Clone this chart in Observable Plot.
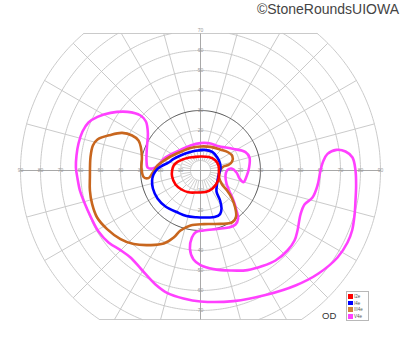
<!DOCTYPE html>
<html><head><meta charset="utf-8">
<script src="https://cdn.jsdelivr.net/npm/d3@7"></script>
<script src="https://cdn.jsdelivr.net/npm/@observablehq/plot@0.6"></script>
<style>
body{margin:0;background:#fff;font-family:"Liberation Sans",Arial,sans-serif}
#wrap{position:relative;width:400px;height:352px;overflow:hidden;background:#fff}
#wrap svg{position:absolute;left:0;top:0}
#copy{position:absolute;right:1px;top:2px;font-size:14px;line-height:14px;color:#444;white-space:nowrap}
#od{position:absolute;left:322px;top:311px;font-size:9.5px;line-height:10px;color:#333}
#legend{position:absolute;left:346px;top:291px;width:23px;height:30px;border:1px solid #b8b8b8;box-sizing:border-box;background:#fff;padding:1px 0 0 1px}
.row{display:flex;align-items:center;height:6.7px;font-size:4.5px;color:#555;white-space:nowrap}
.sw{width:4.5px;height:4.5px;margin-right:1.6px;flex:none}
</style></head>
<body>
<div id="wrap"></div>
<script>
// ---- data (degrees of visual field: x = horizontal, y = vertical) ----
const isopterNames = ["I2e", "I4e", "III4e", "V4e"];
const isopterColors = ["#ff0000", "#0000ff", "#c8661e", "#ff40ff"];
const legendColors = ["#ff0000", "#0000ff", "#d0843a", "#ff40ff"];

const I2e = [[-3.3,6.7],[0,7],[4.2,6.7],[7.5,5],[9,2.5],[9.2,-0.9],[8.8,-5],[6,-9],[2.5,-10.8],[-2,-11],[-5.9,-10.9],[-9.5,-9.5],[-12.5,-7],[-14.2,-3],[-14.2,0],[-13.4,2.5],[-11.5,4.3],[-9,5.5],[-6.5,6.3]];

const I4e = [[-10,7.5],[-6,9],[-1.7,10],[2,10.3],[5.9,9.3],[8.4,6.5],[9.8,3.5],[10,0.9],[9,-2.5],[8.3,-6.5],[8,-10.5],[9.8,-15],[10.5,-19],[9.8,-21.8],[7,-23.3],[3.4,-23.5],[-2,-23.4],[-7,-22.8],[-11.7,-20.9],[-17.5,-18],[-21.5,-14],[-23.8,-9],[-24.2,-5],[-23.5,-2],[-21.5,0.8],[-19,2.5],[-16.3,3.8],[-13.4,5.8]];

const III4e = [[-26,-3.8],[-24,-1.3],[-21.5,2.5],[-18.5,4.8],[-15,7],[-10,9.3],[-5,11.3],[0,12],[5,11.8],[10,10.4],[14,9],[15.9,7.3],[15.8,4.5],[14,2.8],[11.5,2],[10,0.5],[9.3,-3.4],[10.8,-7],[13.3,-10],[15.5,-13.5],[17.3,-18.4],[17.8,-23],[16,-25.8],[10,-26.7],[1.7,-26.8],[-5,-27.5],[-10,-30],[-13.4,-33.5],[-18.4,-36.5],[-25,-37.3],[-33.4,-36.8],[-40,-34.3],[-46.7,-29.3],[-51.7,-23.5],[-54.2,-16.7],[-55.3,-10],[-55.3,-3.4],[-55,6.7],[-53.8,12.5],[-51.5,15.5],[-45,17.8],[-39.2,18.8],[-34.2,17.5],[-31,15],[-29.8,11.5],[-29.3,6.5],[-29.5,1],[-28.4,-3.3]];

const V4e = [[-27,5],[-26.4,1.4],[-24,1],[-21.5,2.3],[-18.5,5.8],[-15,8],[-10,10.3],[-5,12.5],[0,13.7],[5,13.5],[8.5,12.3],[16.5,10.8],[22.5,9.2],[24.5,6.5],[24.3,1.5],[23,-3],[21.5,-5.8],[19.5,-4],[18,-1],[15.5,1],[13.5,0.3],[12.5,-2.5],[13,-6.5],[14.3,-10],[16.5,-15],[18,-20],[18.8,-24],[17.5,-27],[14,-28.5],[8.5,-29.2],[1.5,-30],[-2.5,-30.9],[-4.3,-33.5],[-5.3,-39],[-3.5,-44.5],[0,-47.3],[6.5,-49.3],[15,-50],[23.5,-49.8],[31,-47.8],[37.5,-45],[43.5,-40],[47,-35],[48.5,-30],[50,-22],[52,-17],[56,-13.5],[58.5,-7.5],[60,0],[61.3,4.5],[63.5,8.3],[68,10.3],[72.5,9.5],[76,6.5],[77.5,0],[77.8,-7.5],[77.5,-15],[77,-22.5],[75.8,-30],[73.5,-36],[68.5,-43.5],[59,-51.5],[47.5,-57.5],[33.5,-62],[16.5,-65.3],[0,-65.5],[-8.5,-64],[-16.5,-61.3],[-22.5,-57],[-29.5,-49.5],[-35,-43.5],[-40,-39.8],[-46,-36],[-51,-30.5],[-54.5,-24],[-58.5,-15],[-60.3,-10],[-61.5,-4],[-62.3,1.5],[-62,7.5],[-61,13.5],[-59,19.5],[-56,24],[-51.5,26.8],[-45,28.8],[-36.5,29.3],[-30,27.5],[-27.3,24.5],[-26.3,18.5],[-26.8,11.5]];

const rings = [10, 20, 30, 40, 50, 60, 70, 80, 90];
const hLabels = [10, 20, 30, 40, 50, 60, 70, 80, 90];
const vLabels = [10, 20, 30, 40, 50, 60, 70];
const meridians = d3.range(0, 360, 15);
const hatchAngles = d3.range(0, 360, 10);
const innerRing = 5;
const fieldTop = 68.5, fieldBottom = -74.5;
const copyright = "©StoneRoundsUIOWA";
const eyeLabel = "OD";

// ---- geometry ----
const rad = Math.PI / 180;
const pol = (r, a) => ({x: r * Math.cos(a * rad), y: r * Math.sin(a * rad)});

function ringPoints(r, id) {
  const out = [];
  const a1 = r > fieldTop ? Math.asin(fieldTop / r) / rad : 90;
  const a2 = r > -fieldBottom ? Math.asin(-fieldBottom / r) / rad : 90;
  const arcs = (a1 === 90 && a2 === 90) ? [[0, 360]] : [[-a2, a1], [180 - a1, 180 + a2]];
  arcs.forEach(([s, e], k) => {
    const n = Math.ceil((e - s) / 1);
    for (let i = 0; i <= n; i++) out.push({...pol(r, s + (e - s) * i / n), id: id + "-" + k});
  });
  return out;
}
const gridRings = rings.filter(r => r !== 30).flatMap(r => ringPoints(r, "r" + r)).concat(ringPoints(innerRing, "r5"));
const ring30 = ringPoints(30, "r30");

const spokes = meridians.flatMap(a => {
  const s = Math.sin(a * rad);
  let rEnd = 90;
  if (s > 1e-9) rEnd = Math.min(90, fieldTop / s);
  if (s < -1e-9) rEnd = Math.min(90, fieldBottom / s);
  const p0 = pol(10, a), p1 = pol(rEnd, a);
  return [{x1: p0.x, y1: p0.y, x2: p1.x, y2: p1.y}];
});
const hatches = hatchAngles.map(a => {
  const p0 = pol(innerRing, a), p1 = pol(10, a);
  return {x1: p0.x, y1: p0.y, x2: p1.x, y2: p1.y};
});
const topHalf = Math.sqrt(90 * 90 - fieldTop * fieldTop);
const botHalf = Math.sqrt(90 * 90 - fieldBottom * fieldBottom);
const clipLines = [
  {x1: -topHalf, x2: topHalf, y1: fieldTop, y2: fieldTop},
  {x1: -botHalf, x2: botHalf, y1: fieldBottom, y2: fieldBottom}
];
const axes = [
  {x1: -90, x2: 90, y1: 0, y2: 0},
  {x1: 0, x2: 0, y1: fieldBottom, y2: fieldTop}
];
const labels = [
  ...hLabels.flatMap(v => [{x: -v, y: 0, t: String(v)}, {x: v, y: 0, t: String(v)}]),
  ...vLabels.flatMap(v => [{x: 0, y: v, t: String(v)}, {x: 0, y: -v, t: String(v)}])
];

const isoData = [I2e, I4e, III4e, V4e].flatMap((pts, i) => pts.map(([x, y]) => ({s: isopterNames[i], x, y})));
const drawOrder = ["V4e", "III4e", "I4e", "I2e"];

const chart = Plot.plot({
  width: 400, height: 352, margin: 0,
  x: {domain: [-100, 100], range: [0, 400], axis: null},
  y: {domain: [-91, 85], range: [352, 0], axis: null},
  color: {domain: isopterNames, range: isopterColors},
  style: {background: "transparent", fontFamily: "'Liberation Sans', Arial, sans-serif"},
  marks: [
    Plot.line(gridRings, {x: "x", y: "y", z: "id", stroke: "#c4c4c4", strokeWidth: 0.9}),
    Plot.link(spokes, {x1: "x1", y1: "y1", x2: "x2", y2: "y2", stroke: "#c4c4c4", strokeWidth: 0.9}),
    Plot.link(hatches, {x1: "x1", y1: "y1", x2: "x2", y2: "y2", stroke: "#c4c4c4", strokeWidth: 0.8}),
    Plot.link(clipLines, {x1: "x1", y1: "y1", x2: "x2", y2: "y2", stroke: "#c4c4c4", strokeWidth: 0.9}),
    Plot.link(axes, {x1: "x1", y1: "y1", x2: "x2", y2: "y2", stroke: "#a8a8a8", strokeWidth: 1}),
    Plot.line(ring30, {x: "x", y: "y", z: "id", stroke: "#555", strokeWidth: 1}),
    Plot.text(labels, {x: "x", y: "y", text: "t", fontSize: 5, fill: "#9a9a9a"}),
    ...drawOrder.map(name => Plot.line(isoData.filter(d => d.s === name), {
      x: "x", y: "y", stroke: "s", strokeWidth: 2.6, curve: "catmull-rom-closed", strokeLinejoin: "round"
    }))
  ]
});

const wrap = document.getElementById("wrap");
wrap.appendChild(chart);

const cp = document.createElement("div");
cp.id = "copy"; cp.textContent = copyright; wrap.appendChild(cp);
const od = document.createElement("div");
od.id = "od"; od.textContent = eyeLabel; wrap.appendChild(od);
const lg = document.createElement("div");
lg.id = "legend";
isopterNames.forEach((n, i) => {
  const row = document.createElement("div"); row.className = "row";
  const sw = document.createElement("span"); sw.className = "sw"; sw.style.background = legendColors[i];
  const tx = document.createElement("span"); tx.textContent = n;
  row.appendChild(sw); row.appendChild(tx); lg.appendChild(row);
});
wrap.appendChild(lg);
</script>
</body></html>
